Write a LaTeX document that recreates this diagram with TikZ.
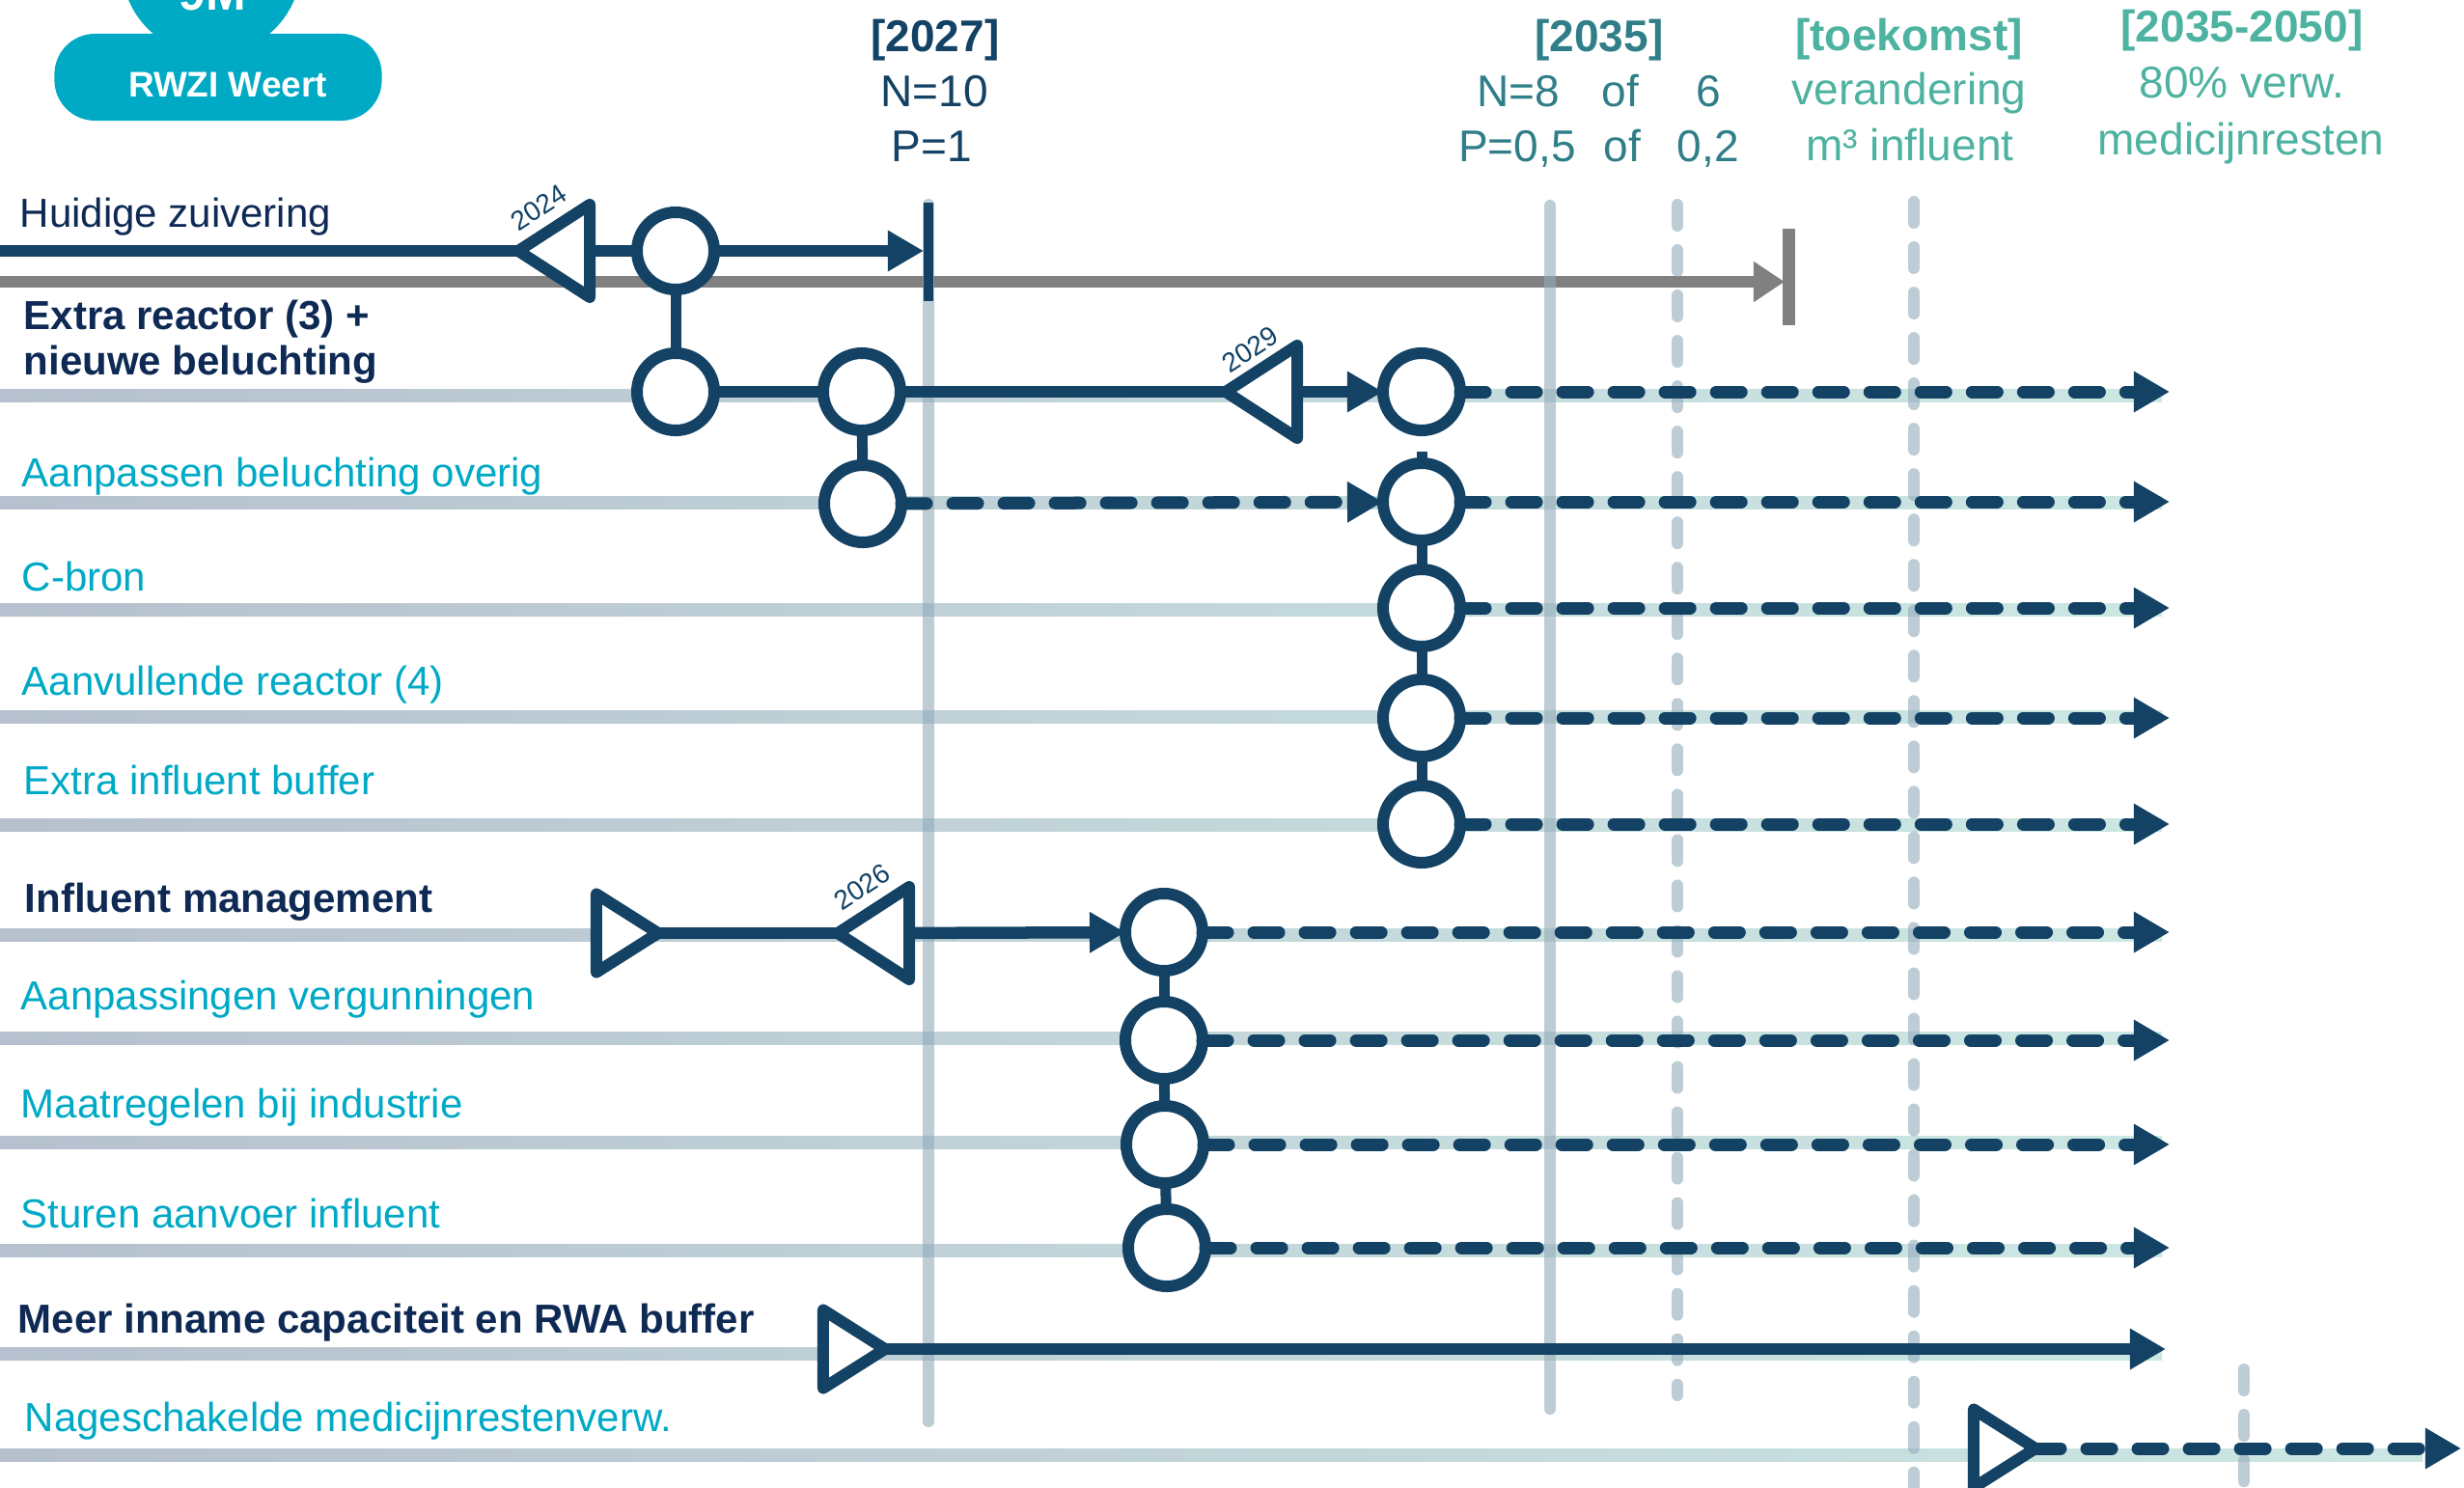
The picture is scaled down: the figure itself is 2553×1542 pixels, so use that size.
\documentclass[tikz,border=0pt]{standalone}
\usepackage{fontspec}
\setmainfont{Liberation Sans}
\usepackage{tikz}
\usetikzlibrary{arrows.meta, positioning, shapes.geometric}
\definecolor{navy}{RGB}{19,66,100}
\definecolor{labelnavy}{RGB}{14,42,84}
\definecolor{labelteal}{RGB}{0,169,197}
\definecolor{headteal}{RGB}{47,126,136}
\definecolor{headmint}{RGB}{78,178,160}
\definecolor{greyline}{RGB}{128,128,128}
\definecolor{trackleft}{RGB}{182,192,206}
\definecolor{trackright}{RGB}{204,232,227}
\definecolor{vline}{RGB}{147,170,187}
\definecolor{logoteal}{RGB}{0,170,196}

\begin{document}
\begin{tikzpicture}[x=0.01cm, y=-0.01cm,
  stopc/.style={circle, draw=navy, line width=1.2mm, fill=white, minimum size=8mm, inner sep=0pt, outer sep=0pt},
  yeartri/.style={isosceles triangle, isosceles triangle stretches, shape border rotate=180, draw=navy, fill=white, line width=1.2mm, line join=round, minimum width=9.6mm, minimum height=7.4mm, inner sep=0pt, outer sep=0pt, anchor=apex},
  starttri/.style={yeartri, shape border rotate=0, minimum width=8.1mm, minimum height=6.4mm},
  navyline/.style={navy, line width=1.25mm},
  joint/.style={navy, line width=1.1mm},
  plan/.style={navy, line width=1.3mm, line cap=round, dash pattern=on 2.6mm off 2.7mm},
  tip/.style={-{Triangle[length=3.7mm, width=4mm]}},
  track/.style={left color=trackleft, right color=trackright},
  guide/.style={vline, opacity=.6, line width=1.2mm, line cap=round},
  guidedash/.style={guide, dash pattern=on 2.2mm off 2.5mm},
  lbl/.style={anchor=base west, inner sep=0pt, text=labelteal, font=\fontsize{11.95}{14}\selectfont},
  lblbold/.style={lbl, text=labelnavy, font=\fontsize{11.95}{14}\selectfont\bfseries},
  head/.style={anchor=base, inner sep=0pt, font=\fontsize{13.1}{15}\selectfont},
  headbold/.style={head, font=\fontsize{13.1}{15}\selectfont\bfseries},
  yearlbl/.style={inner sep=0pt, rotate=33, text=navy, font=\fontsize{8}{9}\selectfont}]

  \useasboundingbox (0,0) rectangle (2553,1542);

  % logo
  \fill[logoteal] (219,-36) circle[radius=9.3mm];
  \node[fill=logoteal, rounded corners=4.2mm, minimum width=3.39cm, minimum height=0.9cm, inner sep=0pt] (rwzi) at (226,80) {};
  \node[anchor=base, inner sep=0pt, text=white, font=\fontsize{14.2}{16}\selectfont\bfseries] (nm) at (220,10) {9M};
  \node[anchor=base, inner sep=0pt, text=white, font=\fontsize{10.5}{12}\selectfont\bfseries] (rwzitxt) at (236,100) {RWZI Weert};

  % koppen
  \node[headbold, text=navy] (y27) at (969,53) {[2027]};
  \node[head, text=navy] (n27) at (968,110) {N=10};
  \node[head, text=navy] (p27) at (965,167) {P=1};
  \node[headbold, text=headteal] (y35) at (1657,53) {[2035]};
  \node[head, text=headteal] (n35a) at (1573,110) {N=8};
  \node[head, text=headteal] (n35b) at (1679,110) {of};
  \node[head, text=headteal] (n35c) at (1770,110) {6};
  \node[head, text=headteal] (p35a) at (1572,167) {P=0,5};
  \node[head, text=headteal] (p35b) at (1681,167) {of};
  \node[head, text=headteal] (p35c) at (1770,167) {0,2};
  \node[headbold, text=headmint] (ytk) at (1978,52) {[toekomst]};
  \node[head, text=headmint] (ntk) at (1978,108) {verandering};
  \node[head, text=headmint] (ptk) at (1979,166) {m³ influent};
  \node[headbold, text=headmint] (y50) at (2323,43) {[2035-2050]};
  \node[head, text=headmint] (n50) at (2323,101) {80\% verw.};
  \node[head, text=headmint] (p50) at (2322,160) {medicijnresten};

  % sporen
  \foreach \y in {410,521,632,743,855,969,1076,1184,1296,1403}
    \fill[track] (0,\y-6.5) rectangle (2240,\y+6.5);
  \fill[track] (0,1501.5) rectangle (2510,1514.5);

  % huidige zuivering (grijs)
  \coordinate (gS) at (0,292);
  \coordinate (gE) at (1849,292);
  \draw[greyline, line width=1.2mm, -{Triangle[length=3.2mm, width=4mm]}] (gS) -- (gE);
  \draw[greyline, line width=1.3mm] (1853,237) -- (1853,337);

  % hulplijnen
  \draw[guide] (962,212) -- (962,1473);
  \draw[guide] (1606,213) -- (1606,1460);
  \draw[guidedash] (1738,212) -- (1738,1446);
  \draw[guidedash] (1983,209) -- (1983,1560);
  \draw[guidedash] (2325,1419) -- (2325,1560);
  \draw[navy, line width=1mm] (962,210) -- (962,312);

  % stations
  \node[yeartri] (t24) at (537,260) {};
  \node[stopc] (h1) at (700,260) {};
  \node[stopc] (r1) at (700,406) {};
  \node[stopc] (r2) at (893,406) {};
  \node[yeartri] (t29) at (1270,406) {};
  \node[stopc] (r3) at (1473,406) {};
  \node[stopc] (a1) at (894,522) {};
  \node[stopc] (a2) at (1473,520) {};
  \node[stopc] (cb) at (1473,630) {};
  \node[stopc] (av) at (1473,744) {};
  \node[stopc] (eb) at (1473,854) {};
  \node[starttri] (is) at (682,967) {};
  \node[yeartri] (t26) at (868,967) {};
  \node[stopc] (i1) at (1206,966) {};
  \node[stopc] (v1) at (1206,1078) {};
  \node[stopc] (m1) at (1207,1186) {};
  \node[stopc] (s1) at (1209,1293) {};
  \node[starttri] (ms) at (917,1398) {};
  \node[starttri] (ns) at (2109,1501) {};

  % verbindingen
  \coordinate (hS) at (0,260);
  \coordinate (hE) at (957,260);
  \draw[navyline] (hS) -- (t24.apex);
  \draw[navyline] (t24) -- (h1);
  \draw[navyline, tip] (h1) -- (hE);
  \draw[joint] (h1) -- (r1);
  \draw[navyline] (r1) -- (r2);
  \draw[navyline] (r2) -- (t29.apex);
  \draw[navyline, tip] (t29) -- (r3);
  \draw[joint] (r2) -- (a1);
  \draw[plan, tip] (a1) -- (a2);
  \draw[joint] (a2.north) -- ++(0,-12);
  \draw[joint] (a2) -- (cb);
  \draw[joint] (cb) -- (av);
  \draw[joint] (av) -- (eb);
  \draw[navyline] (is.apex) -- (t26.apex);
  \draw[navyline, tip] (t26) -- (i1);
  \draw[joint] (i1) -- (v1);
  \draw[joint] (v1) -- (m1);
  \draw[joint] (m1) -- (s1);
  \coordinate (xE) at (2248,0);
  \foreach \n in {r3,a2,cb,av,eb,i1,v1,m1,s1}
    \draw[plan, tip] (\n) -- (\n -| xE);
  \coordinate (msE) at (2244,1398);
  \draw[navyline, tip] (ms.apex) -- (msE);
  \coordinate (nsE) at (2550,1501);
  \draw[plan, tip] (ns.apex) -- (nsE);

  % teksten
  \node[lbl, text=labelnavy] (lhz) at (20,235) {Huidige zuivering};
  \node[lblbold] (ler1) at (24,341) {Extra reactor (3) +};
  \node[lblbold] (ler2) at (24,388) {nieuwe beluchting};
  \node[lbl] (lab) at (22,504) {Aanpassen beluchting overig};
  \node[lbl] (lcb) at (22,612) {C-bron};
  \node[lbl] (lav) at (22,720) {Aanvullende reactor (4)};
  \node[lbl] (leb) at (24,823) {Extra influent buffer};
  \node[lblbold] (lim) at (25,945) {Influent management};
  \node[lbl] (lvg) at (21,1046) {Aanpassingen vergunningen};
  \node[lbl] (lmi) at (21,1158) {Maatregelen bij industrie};
  \node[lbl] (lsa) at (21,1272) {Sturen aanvoer influent};
  \node[lblbold] (lmc) at (18,1381) {Meer inname capaciteit en RWA buffer};
  \node[lbl] (lnm) at (25,1483) {Nageschakelde medicijnrestenverw.};
  \node[yearlbl] (j24) at (558,215) {2024};
  \node[yearlbl] (j29) at (1295,362) {2029};
  \node[yearlbl] (j26) at (893,919) {2026};
\end{tikzpicture}
\end{document}
